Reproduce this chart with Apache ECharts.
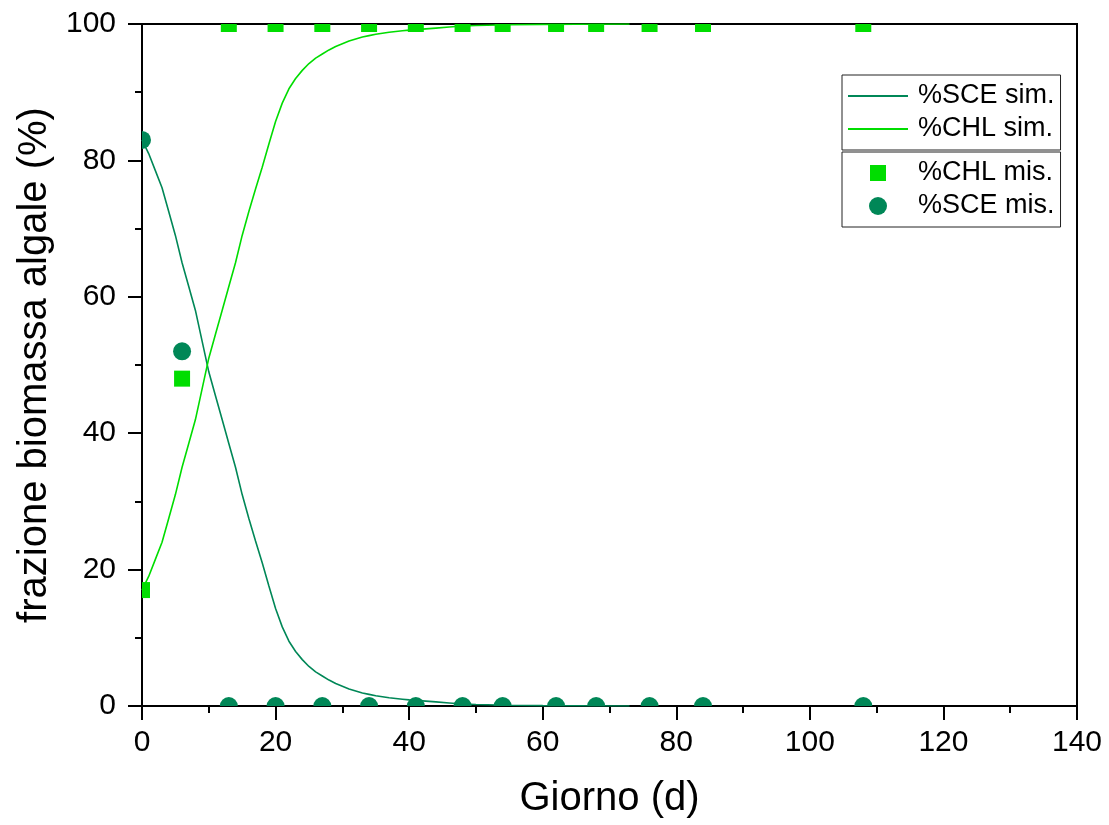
<!DOCTYPE html>
<html>
<head>
<meta charset="utf-8">
<script src="https://cdn.jsdelivr.net/npm/echarts@6/dist/echarts.min.js"></script>
<style>html,body{margin:0;padding:0;background:#fff}#c{width:1109px;height:825px}</style>
</head>
<body>
<div id="c"></div>
<script>
// Simulated curves (day, %)
const simDays = [0,1,2,3,4,5,6,7,8,9,10,11,12,13,14,15,16,17,18,19,20,21,22,23,24,25,26,27,28,29,30,31,32,33,34,35,36,37,38,39,40,42,44,46,48,50,55,60,65,73];
const sceSim = [83,81,78.5,76,72.5,69,65,61.5,58,53.5,49,45.5,42,38.5,35,31,27.5,24.2,21,17.6,14.3,11.6,9.5,8,6.8,5.8,5,4.4,3.8,3.3,2.9,2.5,2.2,1.9,1.7,1.5,1.35,1.2,1.1,1.0,0.9,0.75,0.6,0.45,0.3,0.22,0.12,0.06,0.03,0];
const chlSim = [17,19,21.5,24,27.5,31,35,38.5,42,46.5,51,54.5,58,61.5,65,69,72.5,75.8,79,82.4,85.7,88.4,90.5,92,93.2,94.2,95,95.6,96.2,96.7,97.1,97.5,97.8,98.1,98.3,98.5,98.65,98.8,98.9,99.0,99.1,99.25,99.4,99.55,99.7,99.78,99.88,99.94,99.97,100];
// Measured points
const misDays = [0,6,13,20,27,34,41,48,54,62,68,76,84,108];
const chlMis = [17,48,100,100,100,100,100,100,100,100,100,100,100,100];
const sceMis = [83,52,0,0,0,0,0,0,0,0,0,0,0,0];

const SCE_COLOR = '#008757';
const CHL_COLOR = '#00dd00';

const chart = echarts.init(document.getElementById('c'));
const zip = (xs, ys) => xs.map((x, i) => [x, ys[i]]);
const FONT = 'Liberation Sans, Arial, sans-serif';

function markerSeries(name, data, color, kind) {
  return {
    name, type: 'custom', data, clip: true, color,
    itemStyle: {color},
    encode: {x: 0, y: 1},
    renderItem: function (params, api) {
      const p = api.coord([api.value(0), api.value(1)]);
      if (kind === 'rect') {
        return {type: 'rect', shape: {x: p[0] - 8, y: p[1] - 8, width: 16, height: 16}, style: {fill: color}};
      }
      return {type: 'circle', shape: {cx: p[0], cy: p[1], r: 9}, style: {fill: color}};
    },
    z: 3
  };
}

const legendText = {fontSize: 27, color: '#000', fontFamily: FONT, lineHeight: 30, width: 134, padding: [0, 0, 0, 5]};
// icons spanning a 60x18 box, with the mark centred in it
const SQUARE_ICON = 'path://M0,0M60,18M22,1H38V17H22Z';
const CIRCLE_ICON = 'path://M0,0M60,18M21,9A9,9,0,1,1,39,9A9,9,0,1,1,21,9Z';

chart.setOption({
  animation: false,
  backgroundColor: '#fff',
  textStyle: {fontFamily: FONT},
  grid: {left: 142, right: 32, top: 24, bottom: 119, show: true, borderColor: '#000', borderWidth: 2, backgroundColor: 'transparent'},
  legend: [
    {
      data: [{name: '%SCE sim.', icon: 'rect'}, {name: '%CHL sim.', icon: 'rect'}],
      orient: 'vertical', left: 842, top: 75,
      itemWidth: 60, itemHeight: 2, itemGap: 3,
      padding: [6, 6, 6, 6],
      borderColor: '#222', borderWidth: 1,
      textStyle: legendText
    },
    {
      data: [{name: '%CHL mis.', icon: SQUARE_ICON}, {name: '%SCE mis.', icon: CIRCLE_ICON}],
      orient: 'vertical', left: 842, top: 152,
      itemWidth: 60, itemHeight: 18, itemGap: 3,
      symbolKeepAspect: false,
      padding: [6, 6, 6, 6],
      borderColor: '#222', borderWidth: 1,
      textStyle: legendText
    }
  ],
  xAxis: {
    type: 'value', min: 0, max: 140, interval: 20,
    name: 'Giorno (d)', nameLocation: 'middle', nameGap: 73,
    nameTextStyle: {fontSize: 40, color: '#000', fontFamily: FONT},
    axisLine: {show: true, onZero: false, lineStyle: {color: '#000', width: 2}},
    axisTick: {show: true, inside: false, length: 14, lineStyle: {color: '#000', width: 2}},
    minorTick: {show: true, splitNumber: 2, length: 7, lineStyle: {color: '#000', width: 2}},
    axisLabel: {fontSize: 30, color: '#000', margin: 22, fontFamily: FONT},
    splitLine: {show: false}
  },
  yAxis: {
    type: 'value', min: 0, max: 100, interval: 20,
    name: 'frazione biomassa algale (%)', nameLocation: 'middle', nameGap: 86,
    nameTextStyle: {fontSize: 40, color: '#000', fontFamily: FONT},
    axisLine: {show: true, onZero: false, lineStyle: {color: '#000', width: 2}},
    axisTick: {show: true, inside: false, length: 14, lineStyle: {color: '#000', width: 2}},
    minorTick: {show: true, splitNumber: 2, length: 7, lineStyle: {color: '#000', width: 2}},
    axisLabel: {fontSize: 30, color: '#000', margin: 26, fontFamily: FONT},
    splitLine: {show: false}
  },
  series: [
    {name: '%SCE sim.', type: 'line', data: zip(simDays, sceSim), symbol: 'none', color: SCE_COLOR,
     lineStyle: {color: SCE_COLOR, width: 1.6}, z: 2},
    {name: '%CHL sim.', type: 'line', data: zip(simDays, chlSim), symbol: 'none', color: CHL_COLOR,
     lineStyle: {color: CHL_COLOR, width: 1.6}, z: 2},
    markerSeries('%CHL mis.', zip(misDays, chlMis), CHL_COLOR, 'rect'),
    markerSeries('%SCE mis.', zip(misDays, sceMis), SCE_COLOR, 'circle')
  ]
});
</script>
</body>
</html>
